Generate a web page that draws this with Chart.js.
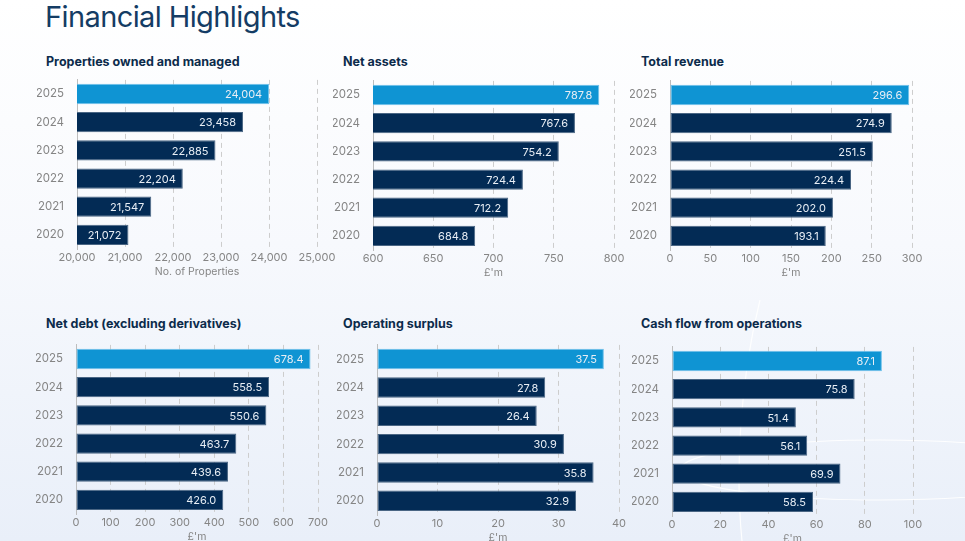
<!DOCTYPE html>
<html>
<head>
<meta charset="utf-8">
<script src="https://cdn.jsdelivr.net/npm/chart.js@4.4.1/dist/chart.umd.min.js"></script>
<style>
  html, body { margin: 0; padding: 0; }
  body {
    width: 965px; height: 541px; overflow: hidden; position: relative;
    font-family: Inter, "Noto Sans", sans-serif;
    background: linear-gradient(180deg, #ffffff 0%, #f7f9fd 45%, #e9eff9 100%);
  }
  .deco { position: absolute; left: 0; top: 0; }
  h1 {
    position: absolute; left: 45px; top: -1px; margin: 0;
    font-size: 29px; font-weight: 400; color: #143c64; letter-spacing: -0.6px;
  }
  .ptitle {
    position: absolute; margin: 0; font-size: 12.5px; font-weight: 700; color: #0c2b4b;
  }
  .box { position: absolute; }
</style>
</head>
<body>
<svg class="deco" width="965" height="541">
  <path d="M742 541 C 735 470, 740 380, 760 300" stroke="rgba(255,255,255,0.9)" stroke-width="1.2" fill="none"/>
  <ellipse cx="880" cy="470" rx="200" ry="30" stroke="rgba(255,255,255,0.9)" stroke-width="1.2" fill="none"/>
</svg>
<h1>Financial Highlights</h1>

<div class="ptitle" style="left:46px; top:54px;">Properties owned and managed</div>
<div class="ptitle" style="left:343px; top:54px;">Net assets</div>
<div class="ptitle" style="left:641px; top:54px;">Total revenue</div>
<div class="ptitle" style="left:46px; top:316px;">Net debt (excluding derivatives)</div>
<div class="ptitle" style="left:343px; top:316px;">Operating surplus</div>
<div class="ptitle" style="left:641px; top:316px;">Cash flow from operations</div>

<div class="box" id="b1"><canvas id="c1"></canvas></div>
<div class="box" id="b2"><canvas id="c2"></canvas></div>
<div class="box" id="b3"><canvas id="c3"></canvas></div>
<div class="box" id="b4"><canvas id="c4"></canvas></div>
<div class="box" id="b5"><canvas id="c5"></canvas></div>
<div class="box" id="b6"><canvas id="c6"></canvas></div>

<script>
const years = ['2025', '2024', '2023', '2022', '2021', '2020'];

const properties = [24004, 23458, 22885, 22204, 21547, 21072];
const netAssets = [787.8, 767.6, 754.2, 724.4, 712.2, 684.8];
const totalRevenue = [296.6, 274.9, 251.5, 224.4, 202.0, 193.1];
const netDebt = [678.4, 558.5, 550.6, 463.7, 439.6, 426.0];
const operatingSurplus = [37.5, 27.8, 26.4, 30.9, 35.8, 32.9];
const cashFlow = [87.1, 75.8, 51.4, 56.1, 69.9, 58.5];

const HIGHLIGHT = '#0f94d3';
const NAVY = '#032b55';
const Y_W = 40;     // y axis width
const X_H = 29;     // x axis height (ticks + title)
const PAD_T = 10;
const PAD_R = 25;

Chart.defaults.font.family = "Inter, 'Noto Sans', sans-serif";
Chart.defaults.color = '#7a7a7a';

const fmtThousands = v => Math.round(Number(v)).toLocaleString('en-GB');
const fmtOne = v => Number(v).toFixed(1);
const fmtInt = v => String(Number(v));

// value labels drawn inside the end of each bar
function barLabels(fmt) {
    return {
        id: 'barLabels',
        afterDatasetsDraw(chart) {
            const c = chart.ctx;
            const meta = chart.getDatasetMeta(0);
            c.save();
            c.font = '11px Inter, "Noto Sans", sans-serif';
            c.fillStyle = '#e8eef5';
            c.textAlign = 'right';
            c.textBaseline = 'middle';
            meta.data.forEach((bar, i) => {
                const v = chart.data.datasets[0].data[i];
                c.fillText(fmt(v), bar.x - 7, bar.y + 1);
            });
            c.restore();
        }
    };
}

function makeChart(n, plot, values, min, max, step, axisTitle, valueFmt, tickFmt) {
    const [pl, pr, pt, pb] = plot;
    const left = pl - Y_W, top = pt - PAD_T;
    const box = document.getElementById('b' + n);
    box.style.left = left + 'px';
    box.style.top = top + 'px';
    box.style.width = (pr + PAD_R - left) + 'px';
    box.style.height = (pb + X_H - top) + 'px';

    new Chart(document.getElementById('c' + n), {
        type: 'bar',
        data: {
            labels: years,
            datasets: [{
                data: values,
                backgroundColor: values.map((v, i) => i === 0 ? HIGHLIGHT : NAVY),
                borderColor: values.map((v, i) => i === 0 ? '#6fc0ea' : '#4a6684'),
                borderWidth: 1,
                borderSkipped: false,
                categoryPercentage: 0.8,
                barPercentage: 0.9
            }]
        },
        options: {
            indexAxis: 'y',
            responsive: true,
            maintainAspectRatio: false,
            animation: false,
            layout: { padding: { top: PAD_T, right: PAD_R, left: 0, bottom: 0 } },
            plugins: {
                legend: { display: false },
                tooltip: { enabled: false }
            },
            scales: {
                x: {
                    min: min, max: max,
                    ticks: {
                        stepSize: step, padding: 2,
                        font: { size: 11 }, color: '#858585',
                        callback: v => tickFmt(v)
                    },
                    grid: { color: '#cdcdcd', drawTicks: false, lineWidth: 1 },
                    border: { display: false, dash: [5, 4] },
                    title: {
                        display: true, text: axisTitle,
                        font: { size: 10.5 }, color: '#858585',
                        padding: { top: 0, bottom: 0 }
                    },
                    afterFit: s => { s.height = X_H; }
                },
                y: {
                    ticks: { padding: 5, font: { size: 11.5 }, color: '#858585' },
                    grid: { display: false },
                    border: { display: true, color: '#bdbdbd', width: 1 },
                    afterFit: s => { s.width = Y_W; }
                }
            }
        },
        plugins: [barLabels(valueFmt)]
    });
}

makeChart(1, [77, 317, 78, 249], properties, 20000, 25000, 1000, 'No. of Properties', fmtThousands, fmtThousands);
makeChart(2, [373, 614, 79, 250], netAssets, 600, 800, 50, "£'m", fmtOne, fmtInt);
makeChart(3, [670, 912, 79, 250], totalRevenue, 0, 300, 50, "£'m", fmtOne, fmtInt);
makeChart(4, [76, 318, 343, 514], netDebt, 0, 700, 100, "£'m", fmtOne, fmtInt);
makeChart(5, [377, 619, 343, 515], operatingSurplus, 0, 40, 10, "£'m", fmtOne, fmtInt);
makeChart(6, [672, 913, 345, 516], cashFlow, 0, 100, 20, "£'m", fmtOne, fmtInt);
</script>
</body>
</html>
